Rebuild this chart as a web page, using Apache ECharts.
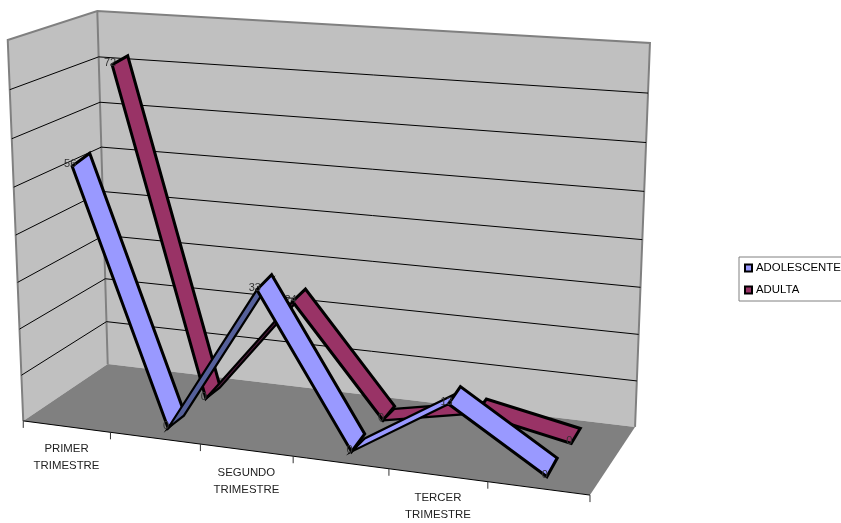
<!DOCTYPE html>
<html>
<head>
<meta charset="utf-8">
<style>html,body{margin:0;padding:0;background:#fff}#main{width:841px;height:523px}</style>
<script src="https://cdn.jsdelivr.net/npm/echarts@6/dist/echarts.min.js"></script>
</head>
<body>
<div id="main"></div>
<script>
var categories = ['PRIMER\nTRIMESTRE', '', 'SEGUNDO\nTRIMESTRE', '', 'TERCER\nTRIMESTRE', ''];
var adolescente = [56, 0, 33, 0, 13, 0];
var adulta = [72, 0, 24, 0, 4, 0];
var yTicks = [10, 20, 30, 40, 50, 60, 70];
var yMax = 80;

// box corners on the page: [u, v, depth] -> [px, py]
var boxCorners = [
    [0, 0, 0, 23, 421], [1, 0, 0, 590, 495], [0, 0, 1, 108, 364], [1, 0, 1, 635, 427],
    [0, 1, 0, 8, 40], [0, 1, 1, 97, 11], [1, 1, 1, 650, 43]
];

// fit a projection matrix to the corners (least squares)
function fitProjection(pts) {
    var rows = [], rhs = [];
    pts.forEach(function (p) {
        var X = p[3] / 1000, Y = p[4] / 1000;
        rows.push([p[0], p[1], p[2], 1, 0, 0, 0, 0, -X * p[0], -X * p[1], -X * p[2]]); rhs.push(X);
        rows.push([0, 0, 0, 0, p[0], p[1], p[2], 1, -Y * p[0], -Y * p[1], -Y * p[2]]); rhs.push(Y);
    });
    var n = 11, A = [], i, j, k;
    for (i = 0; i < n; i++) {
        A[i] = [];
        for (j = 0; j <= n; j++) {
            var s = 0;
            for (k = 0; k < rows.length; k++) s += rows[k][i] * (j < n ? rows[k][j] : rhs[k]);
            A[i][j] = s;
        }
    }
    for (i = 0; i < n; i++) {
        var best = i;
        for (k = i + 1; k < n; k++) if (Math.abs(A[k][i]) > Math.abs(A[best][i])) best = k;
        var t = A[i]; A[i] = A[best]; A[best] = t;
        for (k = 0; k < n; k++) {
            if (k == i) continue;
            var f = A[k][i] / A[i][i];
            for (j = i; j <= n; j++) A[k][j] -= f * A[i][j];
        }
    }
    var m = [];
    for (i = 0; i < n; i++) m[i] = A[i][n] / A[i][i];
    return m;
}
var M = fitProjection(boxCorners);

function project(u, v, z) {
    var w = M[8] * u + M[9] * v + M[10] * z + 1;
    return [
        1000 * (M[0] * u + M[1] * v + M[2] * z + M[3]) / w,
        1000 * (M[4] * u + M[5] * v + M[6] * z + M[7]) / w
    ];
}

// flat grid position from the axes -> point in the 3d box
function place(params, api, x, y, z, dx) {
    var c = api.coord([x, y]), g = params.coordSys;
    var u = (c[0] + (dx || 0) * api.size([1, 0])[0] - g.x) / g.width;
    var v = (g.y + g.height - c[1]) / g.height;
    return project(u, v, z);
}

function wallsItem(params, api) {
    var p = function (x, dx, y, z) { return place(params, api, x, y, z, dx); };
    var l = 0, r = categories.length - 1;
    var a = p(l, -0.5, 0, 0), b = p(r, 0.5, 0, 0), c = p(r, 0.5, 0, 1), d = p(l, -0.5, 0, 1);
    var e = p(l, -0.5, yMax, 0), f = p(l, -0.5, yMax, 1), h = p(r, 0.5, yMax, 1);
    var wall = { fill: '#C0C0C0', stroke: null };
    var edge = { fill: null, stroke: '#808080', lineWidth: 2, lineJoin: 'miter' };
    return {
        type: 'group',
        children: [
            { type: 'polygon', shape: { points: [a, e, f, d] }, style: wall },
            { type: 'polygon', shape: { points: [d, f, h, c] }, style: wall },
            { type: 'polygon', shape: { points: [a, b, c, d] }, style: { fill: '#808080' } },
            { type: 'polyline', shape: { points: [a, e, f, h, c] }, style: edge },
            { type: 'line', shape: { x1: f[0], y1: f[1], x2: d[0], y2: d[1] }, style: edge },
            { type: 'line', shape: { x1: a[0], y1: a[1], x2: b[0], y2: b[1] }, style: { stroke: '#000', lineWidth: 1 } }
        ]
    };
}

function gridItem(params, api) {
    var v = api.value(1), r = categories.length - 1;
    return {
        type: 'polyline',
        shape: { points: [place(params, api, 0, v, 0, -0.5), place(params, api, 0, v, 1, -0.5), place(params, api, r, v, 1, 0.5)] },
        style: { fill: null, stroke: '#000', lineWidth: 1 }
    };
}

function categoryItem(params, api) {
    var i = api.value(0), children = [];
    var t = place(params, api, i, 0, 0, -0.5);
    children.push({ type: 'line', shape: { x1: t[0], y1: t[1], x2: t[0], y2: t[1] + 7 }, style: { stroke: '#333', lineWidth: 1 } });
    if (i == categories.length - 1) {
        var t2 = place(params, api, i, 0, 0, 0.5);
        children.push({ type: 'line', shape: { x1: t2[0], y1: t2[1], x2: t2[0], y2: t2[1] + 7 }, style: { stroke: '#333', lineWidth: 1 } });
    }
    var c = place(params, api, i, 0, 0, 0);
    children.push({
        type: 'text',
        style: {
            x: c[0], y: c[1] + 14, text: categories[i], fill: '#222', align: 'center', verticalAlign: 'top',
            font: '11.4px "Liberation Sans", Arial, sans-serif', lineHeight: 17
        }
    });
    return { type: 'group', children: children };
}

// opt: z0/z1 depth of the ribbon edges, squeeze = height factor, lift = back edge raised on falling parts
function ribbonSeries(name, values, opt, order) {
    return {
        name: name,
        type: 'custom',
        coordinateSystem: 'cartesian2d',
        z: order,
        itemStyle: { color: opt.color },
        data: values.map(function (v, i) { return [i, v]; }),
        renderItem: function (params, api) {
            var i = api.value(0), v = api.value(1), children = [];
            var a = place(params, api, i, v * opt.squeeze, opt.z0);
            children.push({
                type: 'text', z2: 5,
                style: {
                    x: a[0] - 2, y: a[1] - 2, text: String(v), fill: '#333', align: 'center', verticalAlign: 'middle',
                    font: '11px "Liberation Sans", Arial, sans-serif'
                }
            });
            if (i < values.length - 1) {
                var next = values[i + 1];
                var lift = next < v ? opt.lift : 0;
                var b = place(params, api, i + 1, next * opt.squeeze, opt.z0);
                var c = place(params, api, i + 1, next * opt.squeeze + lift, opt.z1);
                var d = place(params, api, i, v * opt.squeeze + lift, opt.z1);
                children.push({
                    type: 'polygon',
                    shape: { points: [a, b, c, d] },
                    style: {
                        fill: next - v > 20 ? opt.dark : opt.color,
                        stroke: '#000', lineWidth: next > v ? 2.2 : 3, lineJoin: 'miter', miterLimit: 10
                    }
                });
            }
            return { type: 'group', children: children };
        }
    };
}

var myChart = echarts.init(document.getElementById('main'), null, { renderer: 'canvas' });
myChart.setOption({
    animation: false,
    backgroundColor: '#fff',
    grid: { left: 0, top: 0, width: 600, height: 400, show: false },
    xAxis: { type: 'category', data: categories, show: false },
    yAxis: { type: 'value', min: 0, max: yMax, interval: 10, show: false },
    legend: {
        left: 739, top: 257, orient: 'vertical', padding: [4, 20, 4, 5], itemGap: 8,
        itemWidth: 7, itemHeight: 7, icon: 'rect',
        borderColor: '#808080', borderWidth: 1, backgroundColor: '#fff',
        data: ['ADOLESCENTE', 'ADULTA'],
        textStyle: { color: '#000', fontFamily: '"Liberation Sans", Arial, sans-serif', fontSize: 11.4, padding: [0, 0, 0, -1], lineHeight: 14 },
        itemStyle: { borderColor: '#000', borderWidth: 2 }
    },
    series: [
        { type: 'custom', coordinateSystem: 'cartesian2d', z: 1, silent: true, data: [[0, 0]], renderItem: wallsItem },
        { type: 'custom', coordinateSystem: 'cartesian2d', z: 1, silent: true, data: yTicks.map(function (v) { return [0, v]; }), renderItem: gridItem },
        { type: 'custom', coordinateSystem: 'cartesian2d', z: 1, silent: true, data: categories.map(function (c, i) { return [i, 0]; }), renderItem: categoryItem },
        ribbonSeries('ADULTA', adulta, { z0: 0.65, z1: 0.84, squeeze: 0.99, lift: 0.6, color: '#993366', dark: '#4F1B3C' }, 2),
        ribbonSeries('ADOLESCENTE', adolescente, { z0: 0.16, z1: 0.36, squeeze: 0.96, lift: 1, color: '#9999FF', dark: '#55609A' }, 3)
    ]
});
</script>
</body>
</html>
